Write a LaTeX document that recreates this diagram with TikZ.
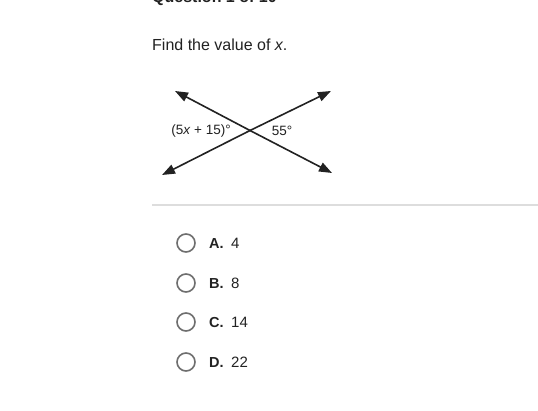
\documentclass[tikz,border=0pt]{standalone}
\usepackage{fontspec}
\setmainfont{Liberation Sans}
\usetikzlibrary{arrows.meta}
\definecolor{txt}{HTML}{222222}
\definecolor{ring}{HTML}{6E6E6E}
\definecolor{rule}{HTML}{DDDDDD}
\begin{document}
\begin{tikzpicture}[x=1pt,y=-1pt,
  ray/.style={line width=1.6pt, txt, -{Triangle[length=13pt,width=9.5pt]}},
  lbl/.style={font=\fontsize{13.5}{15}\selectfont, text=txt, inner sep=0pt},
  radio/.style={circle, draw=ring, line width=1.6pt, minimum size=18pt, inner sep=0pt},
  optkey/.style={font=\fontsize{14.5}{16}\selectfont\bfseries, text=txt, anchor=base west, inner sep=0pt},
  optval/.style={font=\fontsize{15}{17}\selectfont, text=txt, anchor=base west, inner sep=0pt}]
\clip (0,0) rectangle (538,411);
\fill[white] (0,0) rectangle (538,411);
% header
\node[anchor=base west, inner sep=0pt, font=\fontsize{16}{18}\selectfont\bfseries, text=txt] (title) at (152,3) {Question 1 of 10};
\node[anchor=base west, inner sep=0pt, font=\fontsize{16}{18}\selectfont, text=txt] (prompt) at (152,51) {Find the value of \textit{x}.};
% figure
\coordinate (O) at (250,130.5);
\coordinate (tl) at (175,91);
\coordinate (br) at (332,173);
\coordinate (tr) at (331,91);
\coordinate (bl) at (162,175);
\draw[ray] (O) -- (tl);
\draw[ray] (O) -- (br);
\draw[ray] (O) -- (tr);
\draw[ray] (O) -- (bl);
\node[lbl] (a1) at (201,131) {(5\textit{x} + 15)°};
\node[lbl] (a2) at (282,131) {55°};
% rule
\draw[rule, line width=1.2pt] (152,205) -- (538,205);
% options
\foreach \k/\v/\y in {A/4/243, B/8/283, C/14/322, D/22/362}{
  \node[radio] (r\k) at (186,\y) {};
  \node[optkey] (k\k) at (209,\y+5.5) {\k.};
  \node[optval] (v\k) at (231,\y+5.5) {\v};
}
\end{tikzpicture}
\end{document}
